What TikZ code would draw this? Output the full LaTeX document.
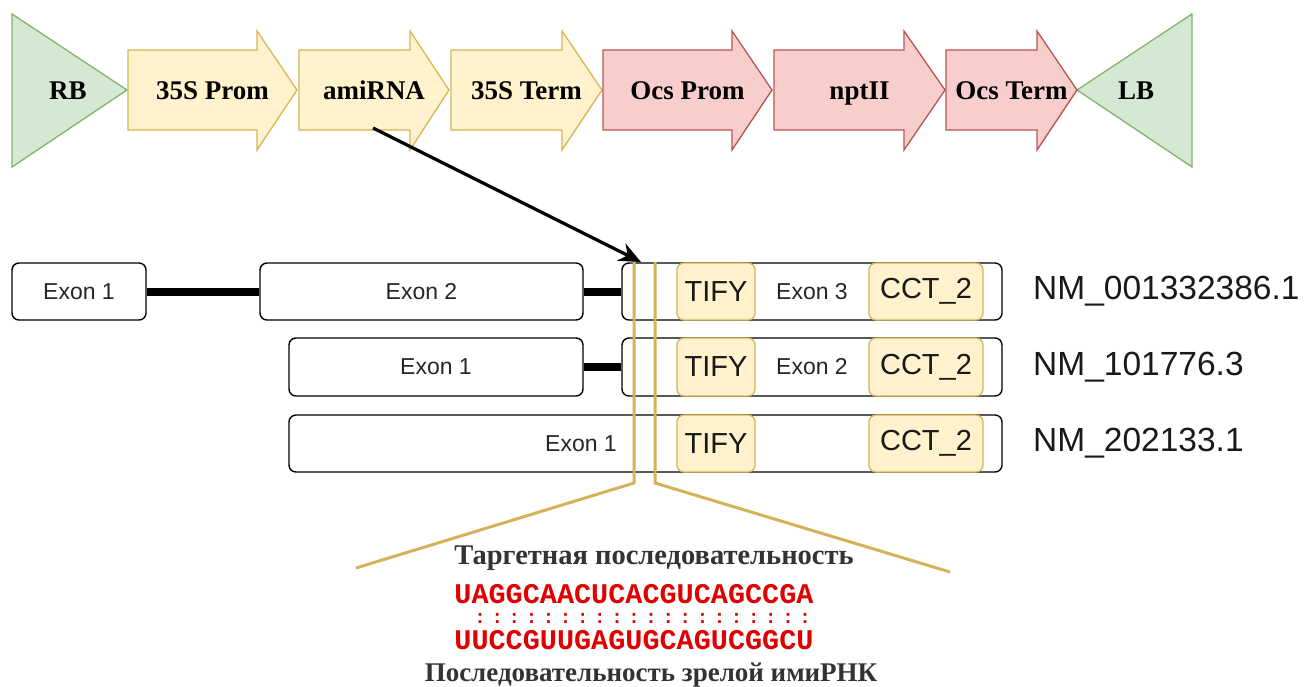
\documentclass[tikz,border=0pt]{standalone}
\usepackage{fontspec}
\setmainfont{Liberation Serif}
\newfontfamily\arialf{Liberation Sans}
\newfontfamily\monof{Liberation Mono}
\usetikzlibrary{arrows.meta}
\definecolor{gfill}{HTML}{D5E8D4}\definecolor{gline}{HTML}{82B366}
\definecolor{yfill}{HTML}{FFF2CC}\definecolor{yline}{HTML}{D6B656}
\definecolor{rfill}{HTML}{F8CECC}\definecolor{rline}{HTML}{B85450}
\definecolor{goldc}{HTML}{D4B25A}
\definecolor{seqred}{HTML}{E00000}
\definecolor{dgray}{HTML}{333333}
\begin{document}
\begin{tikzpicture}[x=1pt,y=-1pt,
  gbody/.style={fill=gfill,draw=gline,line width=1.3pt,line join=miter},
  ybody/.style={fill=yfill,draw=yline,line width=1.3pt,line join=miter},
  rbody/.style={fill=rfill,draw=rline,line width=1.3pt,line join=miter},
  gtext/.style={font=\fontsize{27}{30}\selectfont\bfseries,text=black,inner sep=0pt,text height=18pt,text depth=0pt},
  exonbox/.style={draw=black,line width=1.4pt,rounded corners=7pt,fill=white,inner sep=0pt},
  dombox/.style={draw=yline,line width=1.3pt,rounded corners=7pt,fill=yfill,inner sep=0pt,font=\arialf\fontsize{29}{32}\selectfont,text=black!90},
  elabel/.style={font=\arialf\fontsize{23}{26}\selectfont,text=black!85,inner sep=0pt},
  nmlabel/.style={font=\arialf\fontsize{33.5}{36}\selectfont,text=black!90,anchor=west,inner sep=0pt},
  intron/.style={line width=8pt,black},
  goldline/.style={draw=goldc,line width=3pt,line join=miter},
  seqtext/.style={font=\monof\bfseries\fontsize{28.5}{30}\selectfont,text=seqred,inner sep=0pt},
  colonmark/.style={font=\monof\bfseries\fontsize{19}{21}\selectfont,text=seqred,inner sep=0pt},
  rutext/.style={font=\fontsize{27}{30}\selectfont\bfseries,text=dgray,inner sep=0pt}
]
\useasboundingbox (0,0) rectangle (1305,686);

% border triangles
\draw[gbody] (12,14) -- (127,90) -- (12,167) -- cycle;
\node[gtext] (rb) at (68,90) {RB};
\draw[gbody] (1192,14) -- (1077,90) -- (1192,167) -- cycle;
\node[gtext] (lb) at (1136,90) {LB};

% gene arrows
\foreach \l/\h/\t/\nm/\txt/\sty in {
  128/257/297/pro35/35S Prom/ybody,
  299/410/449/ami/amiRNA/ybody,
  451/562/602/term35/35S Term/ybody,
  603/732/772/ocsp/Ocs Prom/rbody,
  774/904/945/npt/nptII/rbody,
  946/1037/1077/ocst/Ocs Term/rbody}{
  \draw[\sty] (\l,50) -- (\h,50) -- (\h,31) -- (\t,90) -- (\h,150) -- (\h,130) -- (\l,130) -- cycle;
  \node[gtext] (\nm) at ({(\l+\t)/2},90) {\txt};
}

% exon boxes
\node[exonbox,minimum width=134pt,minimum height=57pt] (r1e1) at (79,291.5) {};
\node[exonbox,minimum width=323pt,minimum height=57pt] (r1e2) at (421.5,291.5) {};
\node[exonbox,minimum width=380pt,minimum height=57pt] (r1e3) at (812,291.5) {};
\node[exonbox,minimum width=294pt,minimum height=58pt] (r2e1) at (436,367) {};
\node[exonbox,minimum width=380pt,minimum height=58pt] (r2e2) at (812,367) {};
\node[exonbox,minimum width=713pt,minimum height=57pt] (r3e1) at (645.5,443.5) {};

\draw[intron] (r1e1.east) -- (r1e2.west);
\draw[intron] (r1e2.east) -- (r1e3.west);
\draw[intron] (r2e1.east) -- (r2e2.west);

\node[elabel] (t11) at (r1e1.center) {Exon 1};
\node[elabel] (t12) at (r1e2.center) {Exon 2};
\node[elabel] (t13) at (r1e3.center) {Exon 3};
\node[elabel] (t21) at (r2e1.center) {Exon 1};
\node[elabel] (t22) at (r2e2.center) {Exon 2};
\node[elabel] (t31) at (581,443.5) {Exon 1};

% domains
\node[dombox,minimum width=78pt,minimum height=57pt] (tify1) at (716,291.5) {TIFY};
\node[dombox,minimum width=114pt,minimum height=57pt] (cct1) at (926,291.5) {CCT\_2};
\node[dombox,minimum width=78pt,minimum height=58pt] (tify2) at (716,367) {TIFY};
\node[dombox,minimum width=114pt,minimum height=58pt] (cct2) at (926,367) {CCT\_2};
\node[dombox,minimum width=78pt,minimum height=57pt] (tify3) at (716,443.5) {TIFY};
\node[dombox,minimum width=114pt,minimum height=57pt] (cct3) at (926,443.5) {CCT\_2};

% transcript labels
\node[nmlabel] (nm1) at (1033,291.5) {NM\_001332386.1};
\node[nmlabel] (nm2) at (1033,367) {NM\_101776.3};
\node[nmlabel] (nm3) at (1033,443.5) {NM\_202133.1};

% target region lines
\coordinate (gat) at (634,262);
\coordinate (gab) at (634,483);
\coordinate (gae) at (356,568);
\coordinate (gbt) at (655,262);
\coordinate (gbb) at (655,483);
\coordinate (gbe) at (950,572);
\draw[goldline] (gat) -- (gab) -- (gae);
\draw[goldline] (gbt) -- (gbb) -- (gbe);

% amiRNA arrow
\coordinate (amisrc) at (373,128);
\coordinate (amitgt) at (641,262);
\draw[line width=3.2pt,-{Stealth[length=22pt,width=19pt]}] (amisrc) -- (amitgt);

% sequences
\node[rutext,font=\fontsize{28.5}{31}\selectfont\bfseries] (ttl) at (654,558) {Таргетная последовательность};
\node[seqtext] (seq1) at (634,594) {UAGGCAACUCACGUCAGCCGA};
\foreach \i in {1,...,20}{
  \node[colonmark] (pair\i) at ({454.5+17.1*(\i+0.5)},618) {:};
}
\node[seqtext] (seq2) at (634,640.5) {UUCCGUUGAGUGCAGUCGGCU};
\node[rutext] (btm) at (651,675.5) {Последовательность зрелой имиРНК};
\end{tikzpicture}
\end{document}
